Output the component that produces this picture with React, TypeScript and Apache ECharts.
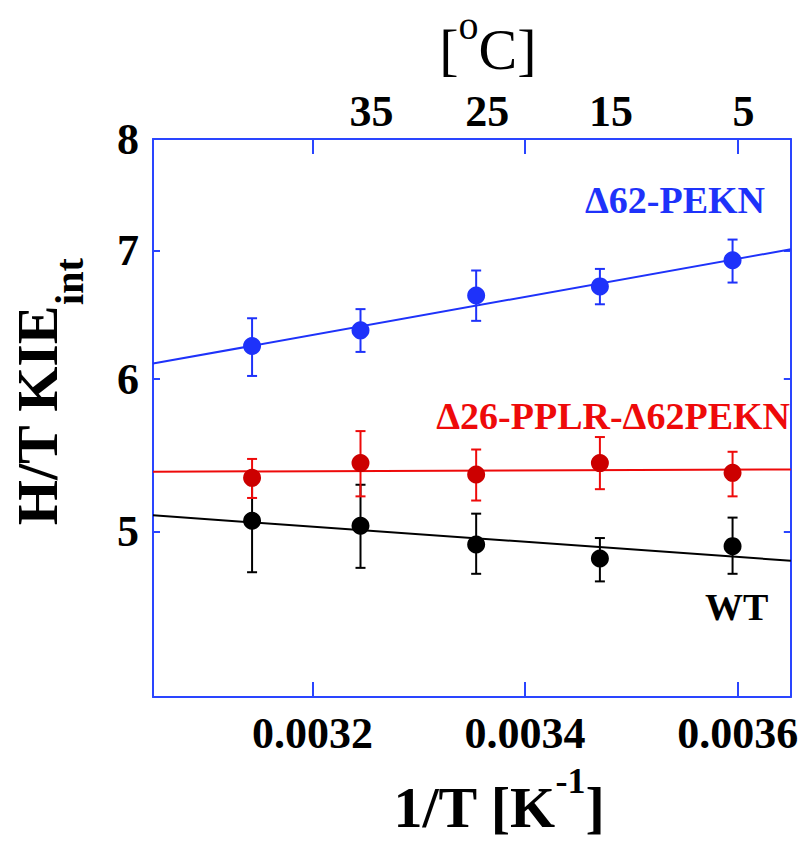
import React, { useEffect, useRef } from "react";
import * as echarts from "echarts";

// ---- data ----
const invT = [0.0031432, 0.0032452, 0.003354, 0.0034704, 0.0035952]; // 45,35,25,15,5 °C
const blueKIE = [6.243, 6.361, 6.632, 6.705, 6.918];
const blueLow = [6.023, 6.199, 6.434, 6.563, 6.736];
const blueHigh = [6.454, 6.525, 6.834, 6.847, 7.092];
const redKIE = [5.331, 5.426, 5.352, 5.426, 5.363];
const redLow = [5.204, 5.214, 5.188, 5.259, 5.214];
const redHigh = [5.453, 5.638, 5.515, 5.598, 5.5];
const blackKIE = [5.064, 5.034, 4.922, 4.84, 4.912];
const blackLow = [4.761, 4.786, 4.752, 4.709, 4.752];
const blackHigh = [5.367, 5.287, 5.107, 4.96, 5.083];
const fitX = [0.00305, 0.00365];
const blueFit = [6.113, 7.01];
const redFit = [5.37, 5.385];
const blackFit = [5.097, 4.827];
const xTickVals = [0.0032, 0.0034, 0.0036];
const yTickVals = [5, 6, 7, 8];
const topTempsC = [35, 25, 15, 5];
const topTempPos = [0.0032452, 0.003354, 0.0034704, 0.0035952];

const BLUE = "#1e32fa";
const FRAME = "#2a45ff";
const RED_PT = "#cc0000";
const RED = "#ee0a0a";
const BLACK = "#000000";
const FONT = "'Liberation Serif', 'Times New Roman', serif";

function errSeries(low: number[], high: number[], color: string) {
  return {
    type: "custom",
    z: 2,
    data: invT.map((x, i) => [x, low[i], high[i]]),
    encode: { x: 0, y: [1, 2] },
    renderItem: (_p: any, api: any) => {
      const x = api.value(0);
      const a = api.coord([x, api.value(1)]);
      const b = api.coord([x, api.value(2)]);
      const w = 5;
      const st = { stroke: color, lineWidth: 2 };
      return {
        type: "group",
        children: [
          { type: "line", shape: { x1: a[0], y1: a[1], x2: b[0], y2: b[1] }, style: st },
          { type: "line", shape: { x1: a[0] - w, y1: a[1], x2: a[0] + w, y2: a[1] }, style: st },
          { type: "line", shape: { x1: b[0] - w, y1: b[1], x2: b[0] + w, y2: b[1] }, style: st },
        ],
      };
    },
  };
}

function fitSeries(vals: number[], color: string) {
  return {
    type: "line",
    z: 2,
    showSymbol: false,
    symbol: "none",
    data: fitX.map((x, i) => [x, vals[i]]),
    lineStyle: { color, width: 2 },
  };
}

function ptSeries(vals: number[], color: string) {
  return {
    type: "scatter",
    z: 3,
    symbolSize: 18,
    data: invT.map((x, i) => [x, vals[i]]),
    itemStyle: { color, opacity: 1 },
  };
}

export default function App() {
  const ref = useRef<HTMLDivElement>(null);
  useEffect(() => {
    if (!ref.current) return;
    const chart = echarts.init(ref.current, undefined, { renderer: "svg" });
    const axisLine = { show: true, lineStyle: { color: FRAME, width: 2 } };
    const lblStyle = { fontSize: 44, fontWeight: "bold", fontFamily: FONT, color: "#000" };
    chart.setOption({
      animation: false,
      backgroundColor: "#fff",
      grid: { left: 139, right: 7, top: 130, bottom: 141, containLabel: false },
      xAxis: [
        {
          type: "value",
          position: "bottom",
          min: 0.00305,
          max: 0.00365,
          axisLine,
          splitLine: { show: false },
          axisTick: { show: true, inside: true, length: 15, customValues: xTickVals, lineStyle: { color: FRAME, width: 2 } },
          axisLabel: { ...lblStyle, margin: 14, customValues: xTickVals, formatter: (v: number) => v.toFixed(4) },
          name: "{m|1/T [K}{s|-1}{m|]}",
          nameLocation: "middle",
          nameGap: 66,
          nameTextStyle: {
            padding: [0, 0, 0, 54],
            rich: {
              m: { fontSize: 58, fontWeight: "bold", fontFamily: FONT, color: "#000", lineHeight: 58, verticalAlign: "bottom" },
              s: { fontSize: 36, fontWeight: "bold", fontFamily: FONT, color: "#000", verticalAlign: "top", padding: [0, 0, 37, 0] },
            },
          },
        },
        {
          type: "value",
          position: "top",
          min: 0.00305,
          max: 0.00365,
          axisLine,
          splitLine: { show: false },
          axisTick: { show: true, inside: true, length: 15, customValues: xTickVals, lineStyle: { color: FRAME, width: 2 } },
          axisLabel: {
            ...lblStyle,
            margin: 6,
            padding: [0, 0, 0, 22],
            customValues: topTempPos,
            formatter: (v: number) => {
              let best = 0;
              topTempPos.forEach((p, i) => {
                if (Math.abs(p - v) < Math.abs(topTempPos[best] - v)) best = i;
              });
              return String(topTempsC[best]);
            },
          },
          name: "{m|[}{s|o}{m|C]}",
          nameLocation: "middle",
          nameGap: 61,
          nameTextStyle: {
            padding: [0, 0, 0, 32],
            rich: {
              m: { fontSize: 58, fontWeight: "normal", fontFamily: FONT, color: "#000", lineHeight: 58, verticalAlign: "bottom" },
              s: { fontSize: 40, fontWeight: "normal", fontFamily: FONT, color: "#000", verticalAlign: "top", padding: [0, 0, 33, 0] },
            },
          },
        },
      ],
      yAxis: [
        {
          type: "log",
          logBase: 10,
          min: 4.1,
          max: 8.0000001,
          position: "left",
          axisLine,
          splitLine: { show: false },
          minorTick: { show: false },
          axisTick: { show: true, inside: true, length: 7, customValues: yTickVals, lineStyle: { color: FRAME, width: 2 } },
          axisLabel: { ...lblStyle, margin: 14, customValues: yTickVals, formatter: (v: number) => String(Math.round(v)) },
          name: "{m|H/T KIE}{s|int}",
          nameLocation: "middle",
          nameRotate: 90,
          nameGap: 64,
          nameTextStyle: {
            padding: [0, 0, 0, 52],
            rich: {
              m: { fontSize: 58, fontWeight: "bold", fontFamily: FONT, color: "#000", lineHeight: 58, verticalAlign: "top" },
              s: { fontSize: 40, fontWeight: "bold", fontFamily: FONT, color: "#000", verticalAlign: "top", padding: [41, 0, 0, 0] },
            },
          },
        },
        {
          type: "log",
          logBase: 10,
          min: 4.1,
          max: 8.0000001,
          position: "right",
          axisLine,
          splitLine: { show: false },
          axisTick: { show: true, inside: true, length: 7, customValues: yTickVals, lineStyle: { color: FRAME, width: 2 } },
          axisLabel: { show: false },
        },
      ],
      series: [
        errSeries(blackLow, blackHigh, BLACK),
        fitSeries(blackFit, BLACK),
        errSeries(redLow, redHigh, RED),
        fitSeries(redFit, RED),
        errSeries(blueLow, blueHigh, BLUE),
        fitSeries(blueFit, BLUE),
        ptSeries(blackKIE, BLACK),
        ptSeries(redKIE, RED_PT),
        ptSeries(blueKIE, BLUE),
      ],
      graphic: [
        {
          type: "text",
          x: 585,
          y: 200,
          style: { text: "Δ62-PEKN", fill: BLUE, font: `bold 38px ${FONT}`, textAlign: "left", textVerticalAlign: "middle", align: "left", verticalAlign: "middle" },
        },
        {
          type: "text",
          x: 790,
          y: 416,
          style: { text: "Δ26-PPLR-Δ62PEKN", fill: RED, font: `bold 38px ${FONT}`, textAlign: "right", textVerticalAlign: "middle", align: "right", verticalAlign: "middle" },
        },
        {
          type: "text",
          x: 705,
          y: 607,
          style: { text: "WT", fill: BLACK, font: `bold 38px ${FONT}`, textAlign: "left", textVerticalAlign: "middle", align: "left", verticalAlign: "middle" },
        },
      ],
    });
    return () => chart.dispose();
  }, []);
  return (
    <div
      ref={ref}
      style={{ position: "absolute", left: 0, top: 0, width: 800, height: 841, background: "#fff" }}
    />
  );
}
